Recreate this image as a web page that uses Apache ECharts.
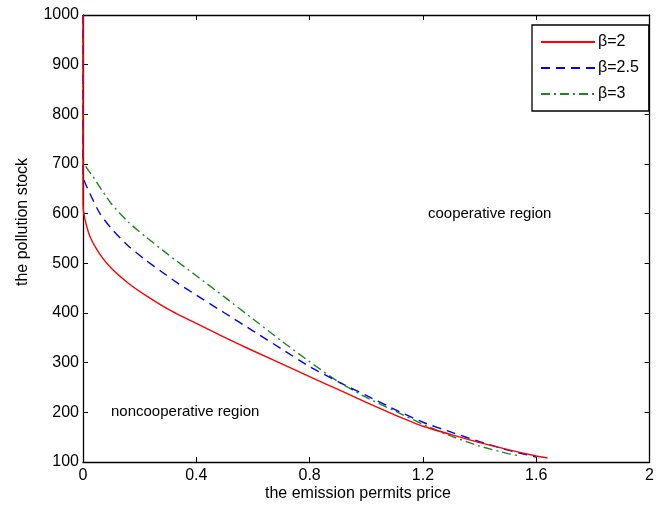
<!DOCTYPE html>
<html>
<head>
<meta charset="utf-8">
<script src="https://cdn.jsdelivr.net/npm/echarts@6/dist/echarts.min.js"></script>
<style>html,body{margin:0;padding:0;background:#fff}#c{width:657px;height:512px}</style>
</head>
<body>
<div id="c"></div>
<script>
const xTicks = [0, 0.4, 0.8, 1.2, 1.6, 2];
const yTicks = [100, 200, 300, 400, 500, 600, 700, 800, 900, 1000];
const seriesNames = ['β=2', 'β=2.5', 'β=3'];

const redX = [0, 0, 0.003, 0.024, 0.06, 0.1, 0.16, 0.22, 0.3, 0.4, 0.5, 0.6, 0.7, 0.8, 0.9, 1.0, 1.1, 1.2, 1.3, 1.4, 1.5, 1.6, 1.64];
const redY = [1000, 627, 600, 555, 518, 490, 460, 436, 408, 379, 351, 324, 298, 272, 246, 220, 195, 172, 155, 139, 125, 112, 108];

const blueX = [0, 0, 0.024, 0.06, 0.1, 0.16, 0.22, 0.28, 0.34, 0.4, 0.5, 0.6, 0.7, 0.8, 0.9, 1.0, 1.1, 1.2, 1.3, 1.4, 1.5, 1.6];
const blueY = [1000, 676, 641, 600, 570, 535, 507, 482, 458, 436, 400, 364, 328, 292, 262, 234, 206, 180, 160, 141, 124, 110];

const greenX = [0, 0, 0.036, 0.1, 0.16, 0.22, 0.3, 0.4, 0.5, 0.6, 0.7, 0.8, 0.9, 1.0, 1.1, 1.2, 1.3, 1.4, 1.5, 1.546];
const greenY = [1000, 708, 674, 620, 583, 554, 518, 475, 432, 388, 344, 302, 262, 230, 203, 176, 152, 132, 117, 112];

const pairs = (xs, ys) => xs.map((x, i) => [x, ys[i]]);
const font = 'Liberation Sans, Arial, sans-serif';

const chart = echarts.init(document.getElementById('c'), null, {renderer: 'canvas'});
const axisBase = {
  type: 'value',
  axisLine: {show: true, onZero: false, lineStyle: {color: '#000', width: 1.3}},
  axisTick: {show: true, inside: true, length: 5, lineStyle: {color: '#000', width: 1}},
  splitLine: {show: false},
};
chart.setOption({
  animation: false,
  backgroundColor: '#fff',
  grid: {left: 83, right: 1, top: 15, bottom: 50, containLabel: false},
  xAxis: [
    Object.assign({}, axisBase, {min: 0, max: 2, interval: 0.4, position: 'bottom',
      axisLabel: {color: '#000', fontSize: 16, fontFamily: font, margin: 6, formatter: v => String(+v.toFixed(1))}}),
    Object.assign({}, axisBase, {min: 0, max: 2, interval: 0.4, position: 'top', axisLabel: {show: false}})
  ],
  yAxis: [
    Object.assign({}, axisBase, {min: 100, max: 1000, interval: 100, position: 'left',
      axisLabel: {color: '#000', fontSize: 16, fontFamily: font, margin: 4, formatter: v => String(v)}}),
    Object.assign({}, axisBase, {min: 100, max: 1000, interval: 100, position: 'right', axisLabel: {show: false}})
  ],
  legend: {
    orient: 'vertical', left: 532, top: 25, width: 110,
    padding: [9, 10, 9, 8], itemGap: 10, itemWidth: 54, itemHeight: 14,
    borderColor: '#000', borderWidth: 1.3, backgroundColor: '#fff',
    itemStyle: {opacity: 0},
    textStyle: {color: '#000', fontSize: 16, fontFamily: font, padding: [0, 0, 0, -2]},
    data: seriesNames
  },
  graphic: [
    {type: 'text', left: 368 - 103, top: 486, style: {text: 'the emission permits price', fill: '#000', font: '16px ' + font}},
    {type: 'text', x: 15, y: 222, rotation: Math.PI / 2, style: {text: 'the pollution stock', fill: '#000', font: '16px ' + font, align: 'center', verticalAlign: 'top'}},
    {type: 'text', left: 428, top: 206, style: {text: 'cooperative region', fill: '#000', font: '15px ' + font}},
    {type: 'text', left: 111, top: 404, style: {text: 'noncooperative region', fill: '#000', font: '15px ' + font}}
  ],
  series: [
    {name: seriesNames[0], type: 'line', data: pairs(redX, redY), showSymbol: false, symbol: 'none', smooth: 0.2,
     lineStyle: {color: '#ff0000', width: 1.4, type: 'solid'}, itemStyle: {color: '#ff0000'}, z: 4},
    {name: seriesNames[1], type: 'line', data: pairs(blueX, blueY), showSymbol: false, symbol: 'none', smooth: 0.2,
     lineStyle: {color: '#0000ff', width: 1.4, type: [9, 6]}, itemStyle: {color: '#0000ff'}, z: 3},
    {name: seriesNames[2], type: 'line', data: pairs(greenX, greenY), showSymbol: false, symbol: 'none', smooth: 0.2,
     lineStyle: {color: '#1a8a1a', width: 1.4, type: [9, 4, 2, 4]}, itemStyle: {color: '#1a8a1a'}, z: 2}
  ]
});
</script>
</body>
</html>
